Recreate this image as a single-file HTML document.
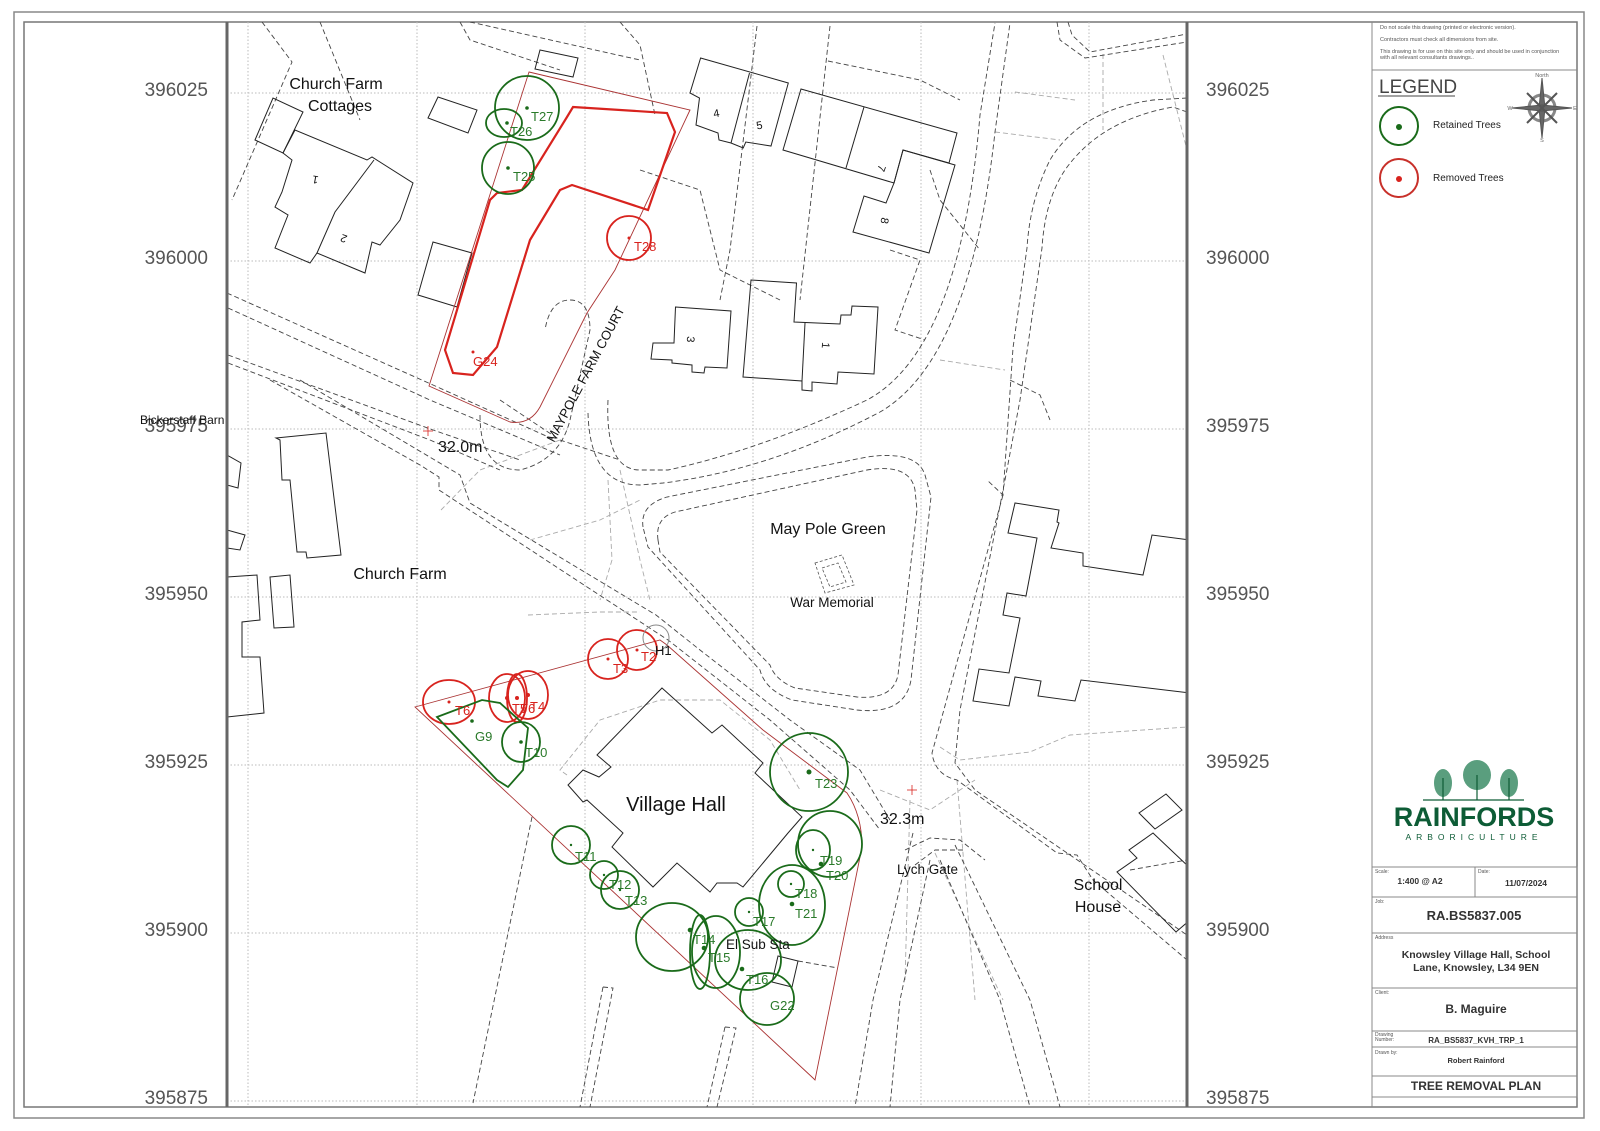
<!DOCTYPE html>
<html><head><meta charset="utf-8"><style>html,body{margin:0;padding:0;background:#fff}svg{display:block}</style></head><body>
<svg width="1600" height="1131" viewBox="0 0 1600 1131" xmlns="http://www.w3.org/2000/svg" font-family="Liberation Sans, Arial, sans-serif">
<rect width="1600" height="1131" fill="#fff"/>
<rect x="14" y="12" width="1570" height="1106" fill="none" stroke="#888" stroke-width="1.5"/>
<rect x="24" y="22" width="1553" height="1085" fill="none" stroke="#777" stroke-width="1.5"/>
<defs><clipPath id="m"><rect x="227" y="22" width="960" height="1085"/></clipPath></defs>
<g clip-path="url(#m)">
<g stroke="#bbb" stroke-width="1" stroke-dasharray="1.5,2">
<line x1="227" y1="93" x2="1187" y2="93"/><line x1="227" y1="261" x2="1187" y2="261"/><line x1="227" y1="429" x2="1187" y2="429"/><line x1="227" y1="597" x2="1187" y2="597"/><line x1="227" y1="765" x2="1187" y2="765"/><line x1="227" y1="933" x2="1187" y2="933"/><line x1="227" y1="1101" x2="1187" y2="1101"/>
<line x1="248" y1="22" x2="248" y2="1107"/><line x1="417" y1="22" x2="417" y2="1107"/><line x1="585" y1="22" x2="585" y2="1107"/><line x1="753" y1="22" x2="753" y2="1107"/><line x1="921" y1="22" x2="921" y2="1107"/><line x1="1089" y1="22" x2="1089" y2="1107"/>
</g>
<g fill="none" stroke="#aaa" stroke-width="0.9" stroke-dasharray="5,3">
<polyline points="441,510 480,470 560,440"/><polyline points="530,540 600,520 640,500"/><polyline points="528,615 600,612 640,612"/>
<polyline points="608,480 612,560 600,600"/><polyline points="620,470 640,560 650,600"/>
<polyline points="1015,92 1075,100"/><polyline points="995,132 1060,140"/><polyline points="940,360 1005,370"/>
<polyline points="1103,54 1103,130"/><polyline points="1163,55 1187,150"/>
<polyline points="567,775 560,770 600,720 660,700 720,700 770,740 800,790"/>
<polyline points="940,747 960,760 1030,752 1070,735 1187,727"/><polyline points="910,800 905,980"/><polyline points="880,790 930,810 975,780"/>
<polyline points="935,853 1003,1000"/><polyline points="957,780 975,1000"/>
</g>
<g fill="none" stroke="#444" stroke-width="0.9" stroke-dasharray="5,3">
<polyline points="227,293 433,385 555,440"/><polyline points="228,308 430,400 560,455"/>
<polyline points="228,355 433,430 520,460"/><polyline points="228,363 430,440 500,470"/>
<polyline points="270,380 420,465 439,477 439,490 668,640 770,720 850,790 880,830"/>
<polyline points="300,380 460,475 470,503 656,615 700,650 790,720 860,770 890,820"/>
<path d="M643,527 Q640,505 667,497 L867,457 Q917,450 925,475 L931,497 L911,680 Q905,715 857,710 L792,700 Q765,690 760,670 L648,547 Z"/>
<path d="M658,540 Q655,518 675,512 L867,470 Q910,463 915,490 L917,510 L898,675 Q893,700 857,697 L795,688 Q775,680 770,665 L660,552 Z"/>
<path d="M608,400 Q605,470 640,470 L668,470 Q760,450 867,400 Q960,350 980,115 L995,23"/>
<path d="M588,413 Q590,485 640,485 L663,483 Q770,470 880,412 Q970,360 995,132 L1010,23"/>
<path d="M1187,98 L1153,100 Q1080,110 1050,160 Q1030,200 1027,248 L1013,348 L1003,495 L987,480 M1003,495 L932,753 Q935,775 957,780 L1057,853 L1077,855 L1093,880 L1187,960"/>
<path d="M1187,112 L1173,107 Q1100,120 1065,170 Q1045,200 1042,248 L1020,400 L1005,480 L960,710 L955,763 L975,790 L1187,935"/>
<polyline points="1057,22 1060,40 1085,58 1187,42"/><polyline points="1068,22 1072,35 1090,52 1187,34"/>
<polyline points="913,833 873,1000 855,1107"/><polyline points="930,860 900,1000 890,1107"/>
<polyline points="940,860 1000,1000 1030,1107"/><polyline points="955,845 1030,1000 1060,1107"/>
<polyline points="905,850 930,838 960,840 985,860"/><polyline points="915,865 935,850 965,850"/>
<polyline points="532,817 473,1103"/><polyline points="603,987 613,988 590,1107"/><polyline points="603,987 580,1107"/>
<polyline points="725,1027 736,1028 717,1107"/><polyline points="725,1027 707,1107"/>
<polyline points="798,961 838,968"/><polyline points="262,22 292,62 232,200"/><polyline points="320,22 360,120"/>
<polyline points="460,22 470,40 560,70"/><polyline points="470,22 640,60"/><polyline points="620,22 640,45 655,115"/>
<polyline points="640,170 700,190 720,270 780,300"/><polyline points="757,26 730,250 720,300"/><polyline points="830,26 800,300"/>
<polyline points="828,61 920,80 960,100"/><polyline points="930,170 940,200 980,250"/>
<polyline points="890,250 920,260 895,330 925,340"/>
<polyline points="500,400 560,440 620,460"/><path d="M480,415 Q480,470 520,470 Q560,460 570,420 L590,330 Q590,300 570,300 Q550,300 545,330"/>
<polyline points="1010,380 1040,395 1050,420"/><polyline points="1130,870 1187,860"/>
</g>
<g fill="none" stroke="#555" stroke-width="0.8" stroke-dasharray="3,2"><polygon points="815,563 842,555 854,585 825,593"/><polygon points="822,568 838,563 846,582 830,587"/></g>
<g fill="none" stroke="#222" stroke-width="1">
<polygon points="255,140 273,98 303,112 283,153"/>
<polygon points="283,153 295,130 367,160 372,157 413,183 400,220 380,245 372,242 365,273 317,253 310,263 275,248 288,215 275,207 282,192 292,160"/>
<polyline points="374,160 335,212 317,253"/>
<polygon points="428,118 438,97 477,110 468,133"/>
<polygon points="418,295 433,242 472,253 457,307"/>
<polygon points="540,50 578,58 573,77 535,69"/>
<polygon points="700.6,58 788.3,83 771,146 745.8,142 743.2,148 731,143 719,140 718,133 696,125 699.5,98 690,93"/>
<polyline points="749.5,73 731,143"/>
<polygon points="801,89 957,133 949,163 903,150 894,183 783,150"/>
<polyline points="864,107 846,168"/>
<polygon points="903,150 955,165 929,253 853,232 864,196 886,203 894,183"/>
<polygon points="675.5,307 731,311 727,368 705,367 704,373 692,372 692,365 672,363 672,360 651,359 653,343 674,343"/>
<polygon points="751,280 796.5,283 794,322 840,324 841,315 851,315 852,306 878,307 874,374 838,372 837,384 812,382 812,391 802,390 802,381 743,377"/>
<polyline points="805,323 802,381"/>
<polygon points="276,438 326,433 341,555 307,558 306,552 297,552 290,480 282,480 280,440"/>
<polygon points="270,577 290,575 294,627 274,628"/>
<polyline points="227,577 257,575 260,620 242,622 242,657 260,657 264,713 227,717"/>
<polyline points="227,455 241,463 238,488 227,485"/><polyline points="227,530 245,535 240,550 227,548"/>
<polygon points="1015,503 1059,510 1057,522 1059,523 1051,548 1083,553 1083,566 1143,575 1152,535 1190,540 1190,693 1081,680 1075,701 1038,696 1041,681 1015,677 1009,706 973,701 979,669 1009,673 1020,618 1003,615 1007,593 1026,596 1037,538 1008,533"/>
<polygon points="1139,813 1166,794 1182,810 1155,829"/>
<polygon points="1153,833 1190,868 1190,920 1176,932 1117,872 1137,858 1129,850"/>
<polygon points="662,688 712,733 722,725 763,763 755,773 802,817 788,833 743,887 737,883 717,883 710,892 677,863 653,887 612,847 623,833 587,800 583,802 568,785 583,770 599,777 611,767 597,755"/>
<polygon points="778,956 798,961 792,987 772,982"/>
</g>
<g fill="none" stroke="#a33" stroke-width="0.9">
<path d="M529,72 L690,110 L615,270 L587,313 L540,407 Q530,425 510,422 L429,386 Z"/>
<path d="M415,707 L660,640 L667,645 L763,730 L847,793 Q862,815 862,847 L815,1080 L813,1078 Z"/>
</g>
<g fill="none" stroke="#d8231e" stroke-width="1.8">
<polygon stroke-width="2.2" points="573,107 667,113 675,132 648,210 572,185 560,190 530,240 497,347 473,375 453,373 445,350 490,200 497,193 522,190 567,117"/>
<circle cx="629" cy="238" r="22"/>
<circle cx="608" cy="659" r="20"/><circle cx="637" cy="650" r="20"/>
<ellipse cx="449" cy="702" rx="26" ry="22"/><ellipse cx="507" cy="698" rx="18" ry="24"/><ellipse cx="517" cy="698" rx="10" ry="24"/><ellipse cx="528" cy="695" rx="20" ry="24"/>
</g>
<circle cx="656" cy="638" r="13" fill="none" stroke="#888" stroke-width="1"/>
<g fill="none" stroke="#1a6b1a" stroke-width="1.8">
<circle cx="527" cy="108" r="32"/><ellipse cx="504" cy="123" rx="18" ry="14"/><circle cx="508" cy="168" r="26"/>
<polygon points="437,717 482,700 500,703 528,728 523,770 508,787 497,780"/>
<ellipse cx="521" cy="742" rx="19" ry="20"/>
<circle cx="809" cy="772" r="39"/>
<ellipse cx="830" cy="844" rx="32" ry="33"/><ellipse cx="813" cy="850" rx="17" ry="20"/>
<ellipse cx="792" cy="905" rx="33" ry="40"/><circle cx="791" cy="884" r="13"/>
<circle cx="749" cy="912" r="14"/>
<circle cx="571" cy="845" r="19"/><circle cx="604" cy="875" r="14"/><circle cx="620" cy="890" r="19"/>
<ellipse cx="672" cy="937" rx="36" ry="34"/><ellipse cx="700" cy="952" rx="10" ry="37"/><ellipse cx="716" cy="952" rx="24" ry="36"/>
<ellipse cx="748" cy="960" rx="33" ry="30"/><ellipse cx="767" cy="999" rx="27" ry="26"/>
</g>
<g fill="#1a6b1a"><circle cx="527" cy="108" r="1.8"/><circle cx="507" cy="123" r="1.8"/><circle cx="508" cy="168" r="1.8"/><circle cx="472" cy="721" r="1.8"/><circle cx="521" cy="742" r="1.8"/><circle cx="809" cy="772" r="2.5"/><circle cx="813" cy="850" r="1.2"/><circle cx="821" cy="864" r="2.3"/><circle cx="791" cy="884" r="1.2"/><circle cx="792" cy="904" r="2.3"/><circle cx="749" cy="912" r="1.2"/><circle cx="571" cy="845" r="1.2"/><circle cx="604" cy="875" r="1.2"/><circle cx="620" cy="890" r="1.2"/><circle cx="690" cy="930" r="2.3"/><circle cx="704" cy="948" r="2.3"/><circle cx="742" cy="969" r="2.3"/></g>
<g fill="#d8231e"><circle cx="629" cy="238" r="1.5"/><circle cx="473" cy="352" r="1.5"/><circle cx="608" cy="659" r="1.5"/><circle cx="637" cy="650" r="1.5"/><circle cx="449" cy="702" r="1.5"/><circle cx="507" cy="698" r="2"/><circle cx="517" cy="698" r="2"/><circle cx="528" cy="695" r="2"/></g>
<g font-size="13" fill="#2a7a2a">
<text x="531" y="121">T27</text><text x="510" y="136">T26</text><text x="513" y="181">T25</text>
<text x="475" y="741">G9</text><text x="525" y="757">T10</text><text x="815" y="788">T23</text>
<text x="820" y="865">T19</text><text x="826" y="880">T20</text><text x="795" y="898">T18</text><text x="795" y="918">T21</text>
<text x="753" y="926">T17</text><text x="575" y="861">T11</text><text x="609" y="889">T12</text><text x="625" y="905">T13</text>
<text x="693" y="944">T14</text><text x="708" y="962">T15</text><text x="746" y="984">T16</text><text x="770" y="1010">G22</text>
</g>
<g font-size="13" fill="#d8231e">
<text x="634" y="251">T28</text><text x="473" y="366">G24</text><text x="613" y="673">T3</text><text x="641" y="661">T2</text>
<text x="455" y="715">T6</text><text x="512" y="713">T5</text><text x="520" y="713">T6</text><text x="530" y="711">T4</text>
</g>
<g fill="#111">
<text x="336" y="89" font-size="16" text-anchor="middle">Church Farm</text>
<text x="340" y="111" font-size="16" text-anchor="middle">Cottages</text>
<text x="438" y="452" font-size="16">32.0m</text>
<text x="0" y="0" font-size="13" transform="translate(554,443) rotate(-62)">MAYPOLE FARM COURT</text>
<text x="828" y="534" font-size="16" text-anchor="middle">May Pole Green</text>
<text x="832" y="607" font-size="13.5" text-anchor="middle">War Memorial</text>
<text x="400" y="579" font-size="16" text-anchor="middle">Church Farm</text>
<text x="676" y="811" font-size="20" text-anchor="middle">Village Hall</text>
<text x="880" y="824" font-size="16">32.3m</text>
<text x="897" y="874" font-size="13.5">Lych Gate</text>
<text x="1098" y="890" font-size="16" text-anchor="middle">School</text>
<text x="1098" y="912" font-size="16" text-anchor="middle">House</text>
<text x="726" y="949" font-size="13.5">El Sub Sta</text>
<text x="655" y="655" font-size="13">H1</text>
<g font-size="11" text-anchor="middle">
<text transform="translate(316,176) rotate(190)">1</text><text transform="translate(345,235) rotate(200)">2</text>
<text transform="translate(717,117) rotate(-10)">4</text><text transform="translate(760,129) rotate(-10)">5</text>
<text transform="translate(878,167) rotate(110)">7</text><text transform="translate(881,220) rotate(100)">8</text>
<text transform="translate(687,339) rotate(95)">3</text><text transform="translate(822,345) rotate(95)">1</text>
</g>
</g>
<g stroke="#d8231e" stroke-width="0.8"><line x1="423" y1="431" x2="433" y2="431"/><line x1="428" y1="426" x2="428" y2="436"/><line x1="907" y1="790" x2="917" y2="790"/><line x1="912" y1="785" x2="912" y2="795"/></g>
</g>
<line x1="227" y1="22" x2="227" y2="1107" stroke="#666" stroke-width="3"/>
<line x1="1187" y1="22" x2="1187" y2="1107" stroke="#666" stroke-width="3"/>
<g font-size="19" fill="#555">
<g text-anchor="end"><text x="208" y="96">396025</text><text x="208" y="264">396000</text><text x="208" y="432">395975</text><text x="208" y="600">395950</text><text x="208" y="768">395925</text><text x="208" y="936">395900</text><text x="208" y="1104">395875</text></g>
<text x="1206" y="96">396025</text><text x="1206" y="264">396000</text><text x="1206" y="432">395975</text><text x="1206" y="600">395950</text><text x="1206" y="768">395925</text><text x="1206" y="936">395900</text><text x="1206" y="1104">395875</text>
</g>
<text x="140" y="424" font-size="12" fill="#111">Bickerstaff Barn</text>
<g fill="none" stroke="#888" stroke-width="1">
<line x1="1372" y1="22" x2="1372" y2="1107"/>
<line x1="1372" y1="70" x2="1577" y2="70"/>
<rect x="1372" y="867" width="205" height="230"/>
<line x1="1475" y1="867" x2="1475" y2="897"/>
<line x1="1372" y1="897" x2="1577" y2="897"/><line x1="1372" y1="933" x2="1577" y2="933"/><line x1="1372" y1="988" x2="1577" y2="988"/><line x1="1372" y1="1031" x2="1577" y2="1031"/><line x1="1372" y1="1047" x2="1577" y2="1047"/><line x1="1372" y1="1076" x2="1577" y2="1076"/>
</g>
<g font-size="5.5" fill="#555">
<text x="1380" y="29">Do not scale this drawing (printed or electronic version).</text>
<text x="1380" y="41">Contractors must check all dimensions from site.</text>
<text x="1380" y="53">This drawing is for use on this site only and should be used in conjunction</text>
<text x="1380" y="59">with all relevant consultants drawings..</text>
</g>
<text x="1379" y="93" font-size="19" fill="#444">LEGEND</text>
<line x1="1378" y1="96" x2="1455" y2="96" stroke="#444" stroke-width="1"/>
<circle cx="1399" cy="126" r="19" fill="none" stroke="#1a6b1a" stroke-width="2"/><circle cx="1399" cy="127" r="3" fill="#1a6b1a"/>
<text x="1433" y="128" font-size="10" fill="#222">Retained Trees</text>
<circle cx="1399" cy="178" r="19" fill="none" stroke="#c8302a" stroke-width="2"/><circle cx="1399" cy="179" r="3" fill="#d8231e"/>
<text x="1433" y="181" font-size="10" fill="#222">Removed Trees</text>
<g transform="translate(1542,108)" stroke="#555" fill="none">
<circle r="13" stroke-width="3" stroke="#888"/>
<polygon points="0,-30 3,0 0,30 -3,0" fill="#666"/><polygon points="-30,0 0,-3 30,0 0,3" fill="#666"/>
<line x1="-15" y1="-15" x2="15" y2="15" stroke-width="2"/><line x1="15" y1="-15" x2="-15" y2="15" stroke-width="2"/>
</g>
<g font-size="5.5" fill="#666" text-anchor="middle"><text x="1542" y="77">North</text><text x="1542" y="142">S</text><text x="1510" y="110">W</text><text x="1575" y="110">E</text></g>
<g fill="#5a9e7e">
<ellipse cx="1443" cy="783" rx="9" ry="14"/><ellipse cx="1477" cy="775" rx="14" ry="15"/><ellipse cx="1509" cy="783" rx="9" ry="14"/>
</g>
<g stroke="#0d5c36" stroke-width="1.2"><line x1="1423" y1="800" x2="1524" y2="800"/><line x1="1443" y1="778" x2="1443" y2="800"/><line x1="1477" y1="775" x2="1477" y2="800"/><line x1="1509" y1="778" x2="1509" y2="800"/></g>
<text x="1474" y="826" font-size="27" font-weight="bold" fill="#0d5c36" text-anchor="middle">RAINFORDS</text>
<text x="1474" y="840" font-size="8.5" fill="#0d5c36" text-anchor="middle" letter-spacing="5">ARBORICULTURE</text>
<g font-size="5" fill="#555"><text x="1375" y="873">Scale:</text><text x="1478" y="873">Date:</text><text x="1375" y="903">Job:</text><text x="1375" y="939">Address</text><text x="1375" y="994">Client:</text><text x="1375" y="1036">Drawing</text><text x="1375" y="1041">Number:</text><text x="1375" y="1054">Drawn by:</text></g>
<g fill="#333" font-weight="bold" text-anchor="middle">
<text x="1420" y="884" font-size="8.5">1:400 @ A2</text><text x="1526" y="886" font-size="8.5">11/07/2024</text>
<text x="1474" y="920" font-size="13">RA.BS5837.005</text>
<text x="1476" y="958" font-size="10.5">Knowsley Village Hall, School</text>
<text x="1476" y="971" font-size="10.5">Lane, Knowsley, L34 9EN</text>
<text x="1476" y="1013" font-size="12">B. Maguire</text>
<text x="1476" y="1043" font-size="8">RA_BS5837_KVH_TRP_1</text>
<text x="1476" y="1063" font-size="7.5">Robert Rainford</text>
<text x="1476" y="1090" font-size="12">TREE REMOVAL PLAN</text>
</g>
</svg>
</body></html>
